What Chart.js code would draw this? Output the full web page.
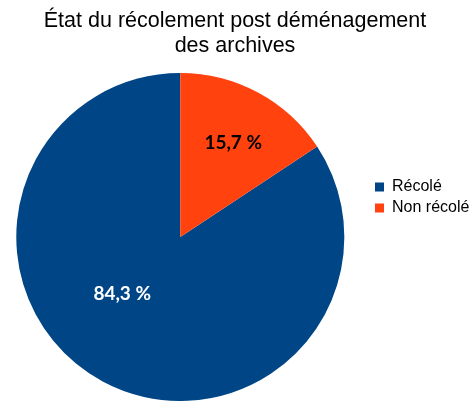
<!DOCTYPE html>
<html>
<head>
<meta charset="utf-8">
<script src="https://cdn.jsdelivr.net/npm/chart.js@4/dist/chart.umd.min.js"></script>
<style>
  html, body { margin: 0; padding: 0; background: #fff; }
  #wrap { width: 475px; height: 401px; position: relative; }
</style>
</head>
<body>
<div id="wrap"><canvas id="c"></canvas></div>
<script>
const titleLines = ["État du récolement post déménagement", "des archives"];
const categories = ["Récolé", "Non récolé"];
const values = [84.3, 15.7];
const valueLabels = ["84,3 %", "15,7 %"];
const colors = ["#004586", "#ff420e"];
const labelColors = ["#ffffff", "#000000"];
// label placement: fraction of radius and angular shift (degrees) from slice middle
const labelRadius = [0.496, 0.658];
const labelAngleShift = [17.3, 1.1];

const total = values.reduce((a, b) => a + b, 0);

const sliceLabels = {
  id: 'sliceLabels',
  afterDatasetsDraw(chart) {
    const ctx = chart.ctx;
    const meta = chart.getDatasetMeta(0);
    meta.data.forEach((arc, i) => {
      const p = arc.getProps(['x', 'y', 'startAngle', 'endAngle', 'outerRadius'], true);
      const mid = (p.startAngle + p.endAngle) / 2 + labelAngleShift[i] * Math.PI / 180;
      const r = p.outerRadius * labelRadius[i];
      ctx.save();
      ctx.font = 'bold 19px Lato, "Liberation Sans", sans-serif';
      ctx.fillStyle = labelColors[i];
      ctx.textAlign = 'center';
      ctx.textBaseline = 'middle';
      ctx.fillText(valueLabels[i], p.x + Math.cos(mid) * r, p.y + Math.sin(mid) * r);
      ctx.restore();
    });
  }
};

const legendShift = {
  id: 'legendShift',
  beforeDraw(chart) {
    const lg = chart.legend;
    if (!lg) return;
    const h = lg.bottom - lg.top;
    const w = lg.right - lg.left;
    lg.top = 174; lg.bottom = lg.top + h;
    lg.left = 370; lg.right = lg.left + w;
  }
};

new Chart(document.getElementById('c'), {
  type: 'pie',
  data: {
    labels: categories,
    datasets: [{
      data: values,
      backgroundColor: colors,
      borderWidth: 0
    }]
  },
  options: {
    responsive: true,
    maintainAspectRatio: false,
    animation: false,
    rotation: 360 * values[1] / total,
    layout: { padding: { right: 5 } },
    plugins: {
      tooltip: { enabled: false },
      title: {
        display: true,
        text: titleLines,
        color: '#000000',
        font: { family: '"Liberation Sans", Arial, sans-serif', size: 21.5, weight: 'normal', lineHeight: 1.15 },
        padding: { top: 9, bottom: 14.5 }
      },
      legend: {
        position: 'right',
        align: 'start',
        labels: {
          boxWidth: 9,
          boxHeight: 9,
          padding: 5,
          color: '#000000',
          font: { family: '"Liberation Sans", Arial, sans-serif', size: 16 }
        }
      }
    }
  },
  plugins: [sliceLabels, legendShift]
});
</script>
</body>
</html>
